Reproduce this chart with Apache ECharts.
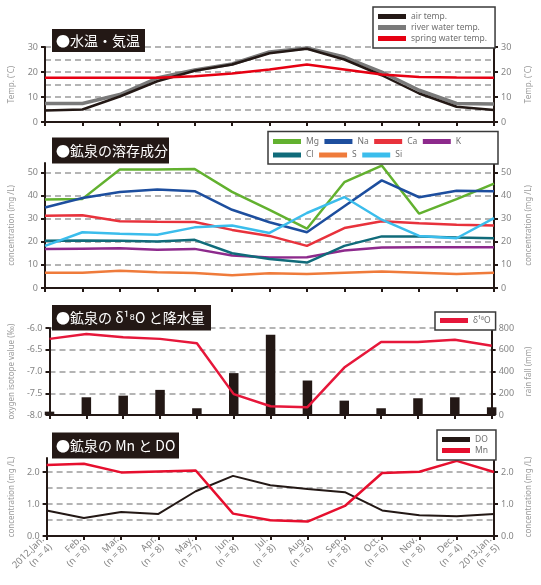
<!DOCTYPE html>
<html>
<head>
<meta charset="utf-8">
<script src="https://cdn.jsdelivr.net/npm/echarts@6/dist/echarts.min.js"></script>
<style>
  html, body { margin: 0; padding: 0; background: #fff; }
  #chart { width: 541px; height: 585px; }
</style>
</head>
<body>
<div id="chart"></div>
<script>
// Monthly sampling periods (number of samples per month in brackets)
const months = [
  '2012.Jan.\n(n = 4)', 'Feb.\n(n = 8)', 'Mar.\n(n = 8)', 'Apr.\n(n = 8)', 'May.\n(n = 7)',
  'Jun.\n(n = 8)', 'Jul.\n(n = 8)', 'Aug.\n(n = 6)', 'Sep.\n(n = 8)', 'Oct.\n(n = 6)',
  'Nov.\n(n = 8)', 'Dec.\n(n = 4)', '2013.Jan.\n(n = 5)'
];

// Temperatures (°C)
const airTemp    = [4.6, 5.0, 10.2, 16.3, 20.5, 23.0, 27.5, 29.3, 25.0, 18.7, 11.4, 6.1, 4.8];
const riverTemp  = [7.4, 7.4, 11.0, 17.6, 20.8, 23.2, 28.0, 29.6, 26.0, 20.0, 12.7, 7.4, 7.2];
const springTemp = [17.7, 17.7, 17.7, 17.7, 18.3, 19.4, 21.0, 23.0, 21.0, 19.0, 18.0, 17.8, 17.7];

// Dissolved components of the mineral spring (mg/L)
const mg = [38.2, 38.5, 51.2, 51.2, 51.4, 41.5, 33.7, 25.6, 45.7, 52.9, 32.1, 38.4, 45.1];
const na = [34.8, 38.9, 41.5, 42.5, 41.8, 33.8, 28.4, 24.1, 35.3, 46.5, 39.2, 42.0, 41.8];
const ca = [31.2, 31.4, 28.8, 28.6, 28.5, 25.1, 22.5, 18.2, 25.9, 28.8, 28.0, 27.3, 27.0];
const k  = [16.8, 17.0, 17.2, 16.5, 16.9, 14.0, 13.2, 13.3, 16.2, 17.5, 17.6, 17.6, 17.6];
const cl = [20.4, 20.5, 20.4, 20.1, 20.8, 15.0, 12.5, 11.0, 18.2, 22.3, 22.3, 21.8, 21.5];
const s  = [6.6, 6.6, 7.4, 6.8, 6.5, 5.5, 6.4, 6.1, 6.6, 7.1, 6.6, 6.1, 6.6];
const si = [18.2, 24.1, 23.4, 23.0, 26.2, 27.0, 23.8, 32.4, 39.3, 29.5, 22.5, 21.5, 30.2];

// Oxygen isotope value (‰) and rainfall (mm)
const d18O     = [-6.25, -6.14, -6.21, -6.25, -6.35, -7.52, -7.80, -7.82, -6.91, -6.32, -6.32, -6.27, -6.41];
const rainFall = [31, 163, 178, 231, 62, 385, 738, 317, 132, 62, 154, 163, 71];

// Manganese and dissolved oxygen (mg/L)
const doValues = [0.80, 0.56, 0.75, 0.69, 1.40, 1.88, 1.59, 1.47, 1.37, 0.80, 0.65, 0.62, 0.69];
const mnValues = [2.22, 2.26, 1.99, 2.02, 2.05, 0.70, 0.49, 0.45, 0.94, 1.97, 2.01, 2.35, 2.00];

// Axis tick labels
const tempTicks  = [0, 10, 20, 30];
const concTicks  = [0, 10, 20, 30, 40, 50];
const isoTicks   = [-8.0, -7.5, -7.0, -6.5, -6.0];
const rainTicks  = [0, 200, 400, 600, 800];
const mnTicks    = [0.0, 1.0, 2.0];

const INK = '#231815';
const LABEL = '#858585';
const FONT = '"Noto Sans", "Liberation Sans", sans-serif';
const JP = '"Noto Sans CJK JP", sans-serif';

const grids = [
  { left: 43, right: 38, top: 47, height: 75 },
  { left: 43, right: 38, top: 163, height: 125 },
  { left: 43, right: 38, top: 328, height: 87 },
  { left: 43, right: 38, top: 458, height: 78 }
];

function xAxisFor(gi, showLabels) {
  return {
    gridIndex: gi, type: 'category', data: months, boundaryGap: false,
    axisLine: { show: true, lineStyle: { color: INK, width: 2 } },
    axisTick: { show: true, interval: 0, length: 4, lineStyle: { color: INK, width: 2 } },
    axisLabel: {
      show: showLabels, interval: 0, rotate: 45, color: LABEL, fontSize: 9.5,
      lineHeight: 11, margin: 6, fontFamily: FONT
    },
    splitLine: { show: false }
  };
}

// Visible left/right value axis with labelled ticks
function yAxisFor(gi, side, cfg) {
  return {
    gridIndex: gi, type: 'value', position: side,
    min: cfg.min, max: cfg.max, interval: cfg.interval,
    name: cfg.name, nameLocation: 'middle', nameGap: side === 'left' ? 29 : 31, nameRotate: 90,
    nameTextStyle: { color: '#9a9a9a', fontSize: 8, fontFamily: FONT },
    axisLine: { show: true, onZero: false, lineStyle: { color: INK, width: 2 } },
    axisTick: { show: true, length: 4, customValues: cfg.ticks, lineStyle: { color: INK, width: 2 } },
    axisLabel: {
      color: LABEL, fontSize: 9, margin: 7, fontFamily: FONT,
      customValues: cfg.ticks, formatter: cfg.fmt || (v => String(v))
    },
    splitLine: { show: false }
  };
}

// Invisible axis that only carries the dashed reference lines
function gridLineAxis(gi, cfg) {
  return {
    gridIndex: gi, type: 'value', position: 'left',
    min: cfg.min, max: cfg.max, interval: cfg.dash,
    axisLine: { show: false }, axisTick: { show: false }, axisLabel: { show: false },
    splitLine: {
      show: true, showMinLine: false, showMaxLine: cfg.maxLine,
      lineStyle: { color: '#9c9c9c', type: [6, 4], width: 1.5 }
    }
  };
}

const oneDec = v => v.toFixed(1);
const tempCfg = { min: 0, max: 30, interval: 5, dash: 5, ticks: tempTicks, maxLine: true, name: 'Temp. (˚C)' };
const concCfg = { min: 0, max: 54, interval: 10, dash: 10, ticks: concTicks, maxLine: false, name: 'concentration (mg /L)' };
const isoCfg  = { min: -8, max: -6, interval: 0.5, dash: 0.5, ticks: isoTicks, maxLine: true, fmt: oneDec, name: 'oxygen isotope value (‰)' };
const rainCfg = { min: 0, max: 800, interval: 200, ticks: rainTicks, name: 'rain fall (mm)' };
const mnCfg   = { min: 0, max: 2.44, interval: 0.5, dash: 0.5, ticks: mnTicks, maxLine: false, fmt: oneDec, name: 'concentration (mg /L)' };

function line(name, data, color, width, xi, yi, z) {
  return {
    name, type: 'line', data, xAxisIndex: xi, yAxisIndex: yi,
    symbol: 'none', smooth: false, z: z || 2,
    lineStyle: { color, width }, itemStyle: { color }
  };
}

const legendBase = {
  icon: 'rect', itemWidth: 28, itemHeight: 5, itemGap: 2,
  backgroundColor: '#fff', borderColor: '#3a3a3a', borderWidth: 1.5,
  textStyle: { color: '#6f6f6f', fontSize: 8.5, fontFamily: FONT },
  selectedMode: false, z: 20
};

// Black caption boxes for each panel
function caption(x, y, w, h, text) {
  return [
    { type: 'rect', z: 30, shape: { x, y, width: w, height: h }, style: { fill: INK } },
    { type: 'text', z: 31, x: x + 4, y: y + h / 2,
      style: { text, fill: '#fff', font: '14px ' + JP, verticalAlign: 'middle' } }
  ];
}

const option = {
  animation: false,
  backgroundColor: '#fff',
  grid: grids,
  xAxis: [xAxisFor(0, false), xAxisFor(1, false), xAxisFor(2, false), xAxisFor(3, true)],
  yAxis: [
    yAxisFor(0, 'left', tempCfg), yAxisFor(0, 'right', tempCfg),
    yAxisFor(1, 'left', concCfg), yAxisFor(1, 'right', concCfg),
    yAxisFor(2, 'left', isoCfg),  yAxisFor(2, 'right', rainCfg),
    yAxisFor(3, 'left', mnCfg),   yAxisFor(3, 'right', mnCfg),
    gridLineAxis(0, tempCfg), gridLineAxis(1, concCfg),
    gridLineAxis(2, isoCfg), gridLineAxis(3, mnCfg)
  ],
  legend: [
    Object.assign({}, legendBase, {
      data: ['air temp.', 'river water temp.', 'spring water temp.'],
      orient: 'vertical', left: 373, top: 7, padding: [5, 8, 5, 5]
    }),
    Object.assign({}, legendBase, {
      data: ['Mg', 'Na', 'Ca', 'K'], backgroundColor: 'transparent', borderWidth: 0,
      orient: 'horizontal', left: 273, top: 137, padding: 0, itemGap: 5.5,
      textStyle: Object.assign({}, legendBase.textStyle, { width: 20 })
    }),
    Object.assign({}, legendBase, {
      data: ['Cl', 'S', 'Si'], backgroundColor: 'transparent', borderWidth: 0,
      orient: 'horizontal', left: 273, top: 150.5, padding: 0, itemGap: 5.5,
      textStyle: Object.assign({}, legendBase.textStyle, { width: 20 })
    }),
    Object.assign({}, legendBase, {
      data: ['δ¹⁸O'], orient: 'vertical', left: 435, top: 312, padding: [4, 5, 5, 5]
    }),
    Object.assign({}, legendBase, {
      data: ['DO', 'Mn'], orient: 'vertical', left: 437, top: 430, padding: [5, 8, 5, 5]
    })
  ],
  graphic: [
    { type: 'rect', z: 15, shape: { x: 268, y: 131.5, width: 230, height: 32.5 },
      style: { fill: '#fff', stroke: '#3a3a3a', lineWidth: 1.5 } },
    ...caption(52, 29, 93, 23, '●水温・気温'),
    ...caption(52, 137.5, 117, 26, '●鉱泉の溶存成分'),
    ...caption(52, 305, 159, 25.5, '●鉱泉の δ¹⁸O と降水量'),
    ...caption(52, 432.5, 127, 26, '●鉱泉の Mn と DO')
  ],
  series: [
    line('river water temp.', riverTemp, '#7a7a7a', 3.5, 0, 0, 2),
    line('air temp.', airTemp, INK, 2.5, 0, 0, 3),
    line('spring water temp.', springTemp, '#e60012', 2.5, 0, 0, 4),

    line('Mg', mg, '#62b12f', 2.5, 1, 2),
    line('Na', na, '#1d4e9e', 2.5, 1, 2),
    line('Ca', ca, '#e8323c', 2.5, 1, 2),
    line('K',  k,  '#8d2a8c', 2.5, 1, 2),
    line('Cl', cl, '#106b7a', 2.5, 1, 2),
    line('S',  s,  '#ef7b3b', 2.5, 1, 2),
    line('Si', si, '#3bbdec', 2.5, 1, 2),

    {
      name: 'rain fall', type: 'bar', data: rainFall, xAxisIndex: 2, yAxisIndex: 5,
      barWidth: 9.5, itemStyle: { color: INK }, clip: true, z: 2
    },
    line('δ¹⁸O', d18O, '#e6173a', 2.5, 2, 4, 3),

    line('DO', doValues, INK, 2, 3, 6, 2),
    line('Mn', mnValues, '#e60f2e', 2.5, 3, 6, 3)
  ]
};

const chart = echarts.init(document.getElementById('chart'), null, { renderer: 'canvas' });
chart.setOption(option);
</script>
</body>
</html>
